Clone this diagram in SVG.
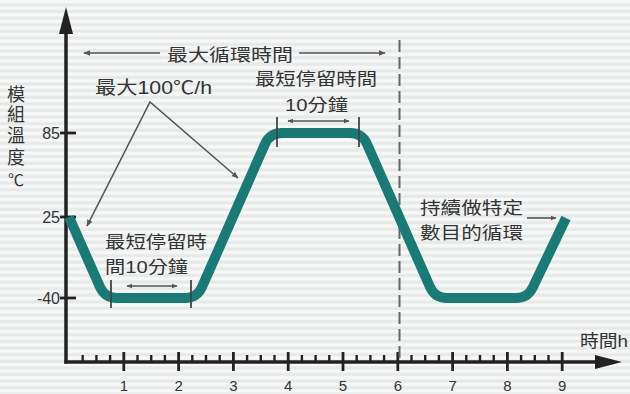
<svg xmlns="http://www.w3.org/2000/svg" width="630" height="394" viewBox="0 0 630 394">
<defs>
<pattern id="stripes" width="10" height="6.6" patternUnits="userSpaceOnUse">
<rect width="10" height="6.6" fill="#f6f8f8"/>
<rect y="3.3" width="10" height="3" fill="#e7e9e9"/>
</pattern>
<marker id="ah" viewBox="0 0 10 10" refX="9" refY="5" markerWidth="7" markerHeight="7" orient="auto-start-reverse" markerUnits="userSpaceOnUse">
<path d="M0,1 L10,5 L0,9 Z" fill="#555"/>
</marker>
<marker id="ahs" viewBox="0 0 10 10" refX="9" refY="5" markerWidth="6" markerHeight="6" orient="auto-start-reverse" markerUnits="userSpaceOnUse">
<path d="M0,1 L10,5 L0,9 Z" fill="#555"/>
</marker>
</defs>
<style>
text{font-family:"Liberation Sans","Noto Sans CJK TC",sans-serif;fill:#333}
.lbl{font-size:17px}
.num{font-size:15px}
.ax{stroke:#222;fill:none}
.ann{stroke:#555;stroke-width:1.6;fill:none}
.mark{stroke:#444;stroke-width:1.8}
</style>
<rect width="630" height="394" fill="url(#stripes)"/>

<g id="axes">
<line class="ax" x1="66" y1="363.5" x2="66" y2="30" stroke-width="3.5"/>
<polygon points="66,7 59,34 73,34" fill="#222"/>
<line class="ax" x1="64.3" y1="362" x2="600" y2="362" stroke-width="3.5"/>
<polygon points="622,362 595,355 595,369" fill="#222"/>
<g stroke="#222" stroke-width="2.8">
<line x1="60" y1="133" x2="76" y2="133"/>
<line x1="60" y1="217" x2="76" y2="217"/>
<line x1="60" y1="298" x2="76" y2="298"/>
</g>
<g stroke="#222" stroke-width="2.8">
<line x1="123.8" y1="352" x2="123.8" y2="371"/>
<line x1="178.6" y1="352" x2="178.6" y2="371"/>
<line x1="233.4" y1="352" x2="233.4" y2="371"/>
<line x1="288.2" y1="352" x2="288.2" y2="371"/>
<line x1="343" y1="352" x2="343" y2="371"/>
<line x1="397.8" y1="352" x2="397.8" y2="371"/>
<line x1="452.6" y1="352" x2="452.6" y2="371"/>
<line x1="507.4" y1="352" x2="507.4" y2="371"/>
<line x1="562.2" y1="352" x2="562.2" y2="371"/>
</g>
<g stroke="#222" stroke-width="2.4">
<line x1="82.7" y1="355" x2="82.7" y2="362"/><line x1="96.4" y1="355" x2="96.4" y2="362"/><line x1="110.1" y1="355" x2="110.1" y2="362"/>
<line x1="137.5" y1="355" x2="137.5" y2="362"/><line x1="151.2" y1="355" x2="151.2" y2="362"/><line x1="164.9" y1="355" x2="164.9" y2="362"/>
<line x1="192.3" y1="355" x2="192.3" y2="362"/><line x1="206" y1="355" x2="206" y2="362"/><line x1="219.7" y1="355" x2="219.7" y2="362"/>
<line x1="247.1" y1="355" x2="247.1" y2="362"/><line x1="260.8" y1="355" x2="260.8" y2="362"/><line x1="274.5" y1="355" x2="274.5" y2="362"/>
<line x1="301.9" y1="355" x2="301.9" y2="362"/><line x1="315.6" y1="355" x2="315.6" y2="362"/><line x1="329.3" y1="355" x2="329.3" y2="362"/>
<line x1="356.7" y1="355" x2="356.7" y2="362"/><line x1="370.4" y1="355" x2="370.4" y2="362"/><line x1="384.1" y1="355" x2="384.1" y2="362"/>
<line x1="411.5" y1="355" x2="411.5" y2="362"/><line x1="425.2" y1="355" x2="425.2" y2="362"/><line x1="438.9" y1="355" x2="438.9" y2="362"/>
<line x1="466.3" y1="355" x2="466.3" y2="362"/><line x1="480" y1="355" x2="480" y2="362"/><line x1="493.7" y1="355" x2="493.7" y2="362"/>
<line x1="521.1" y1="355" x2="521.1" y2="362"/><line x1="534.8" y1="355" x2="534.8" y2="362"/><line x1="548.5" y1="355" x2="548.5" y2="362"/>
</g>
<g class="num" text-anchor="middle">
<text x="123.8" y="391">1</text>
<text x="178.6" y="391">2</text>
<text x="233.4" y="391">3</text>
<text x="288.2" y="391">4</text>
<text x="343" y="391">5</text>
<text x="397.8" y="391">6</text>
<text x="452.6" y="391">7</text>
<text x="507.4" y="391">8</text>
<text x="562.2" y="391">9</text>
</g>
<g class="num" text-anchor="end" style="font-size:16px">
<text x="60" y="139">85</text>
<text x="60" y="223">25</text>
<text x="60" y="304">-40</text>
</g>
<g style="font-size:18px" text-anchor="middle">
<text x="16" y="101">模</text>
<text x="16" y="121">組</text>
<text x="16" y="142">溫</text>
<text x="16" y="164">度</text>
<text x="16" y="186" style="font-size:16px">℃</text>
</g>
<text x="580" y="347" class="lbl" textLength="48" lengthAdjust="spacingAndGlyphs">時間h</text>
</g>

<g id="cycle-divider">
<line x1="399.5" y1="40" x2="399.5" y2="362" stroke="#666" stroke-width="2" stroke-dasharray="12,5"/>
</g>

<g id="profile">
<path d="M69,217 L100,287 Q105,298 117,298 L185,298 Q197,298 202,287 L265,144 Q270,133 282,133 L350,133 Q362,133 367,144 L430,287 Q435,298 447,298 L516,298 Q528,298 533,287 L566,218" fill="none" stroke="#1a7b76" stroke-width="10"/>
</g>

<g id="connectors">
<line class="ann" x1="160" y1="53" x2="84" y2="53" marker-end="url(#ah)"/>
<line class="ann" x1="299" y1="53" x2="385" y2="53" marker-end="url(#ah)"/>
<polyline class="ann" points="87,226 150,102 238,178" marker-start="url(#ah)" marker-end="url(#ah)"/>
<line class="ann" x1="127" y1="286" x2="177" y2="286" marker-start="url(#ahs)" marker-end="url(#ahs)"/>
<line class="ann" x1="288" y1="121" x2="349" y2="121" marker-start="url(#ahs)" marker-end="url(#ahs)"/>
<line class="ann" x1="527" y1="218" x2="556" y2="218" marker-end="url(#ahs)"/>
<line class="mark" x1="111" y1="280" x2="111" y2="308"/>
<line class="mark" x1="191" y1="280" x2="191" y2="308"/>
<line class="mark" x1="277" y1="117" x2="277" y2="147"/>
<line class="mark" x1="359" y1="117" x2="359" y2="147"/>
</g>

<g id="labels">
<text x="167" y="61" class="lbl" textLength="126" lengthAdjust="spacingAndGlyphs">最大循環時間</text>
<text x="95" y="94" class="lbl" style="font-size:18px" textLength="117" lengthAdjust="spacingAndGlyphs">最大100℃/h</text>
<text x="255" y="85" class="lbl" textLength="122" lengthAdjust="spacingAndGlyphs">最短停留時間</text>
<text x="285" y="111" class="lbl" textLength="63" lengthAdjust="spacingAndGlyphs">10分鐘</text>
<text x="105" y="248" class="lbl" textLength="102" lengthAdjust="spacingAndGlyphs">最短停留時</text>
<text x="105" y="273" class="lbl" textLength="83" lengthAdjust="spacingAndGlyphs">間10分鐘</text>
<text x="420" y="214" class="lbl" textLength="103" lengthAdjust="spacingAndGlyphs">持續做特定</text>
<text x="420" y="239" class="lbl" textLength="103" lengthAdjust="spacingAndGlyphs">數目的循環</text>
</g>
</svg>
